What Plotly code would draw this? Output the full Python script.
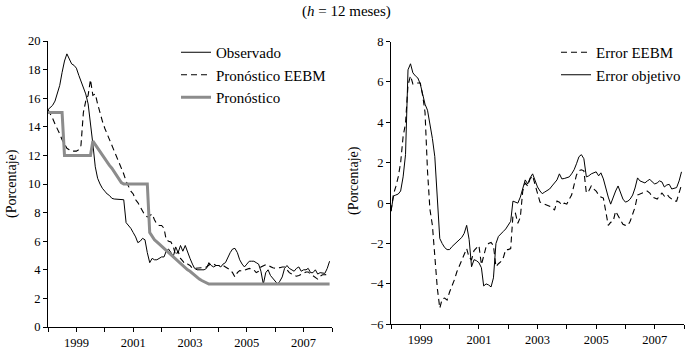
import plotly.graph_objects as go
import pandas as pd

# Monthly dates Jan 1998 - Dec 2007
months = pd.date_range("1998-01-01", periods=120, freq="MS")

# Left panel (inflation, %)
observado = [
    15.2, 15.4, 15.5, 15.8, 16.3, 16.9, 17.8, 18.6, 19.1, 18.8, 18.4, 18.3,
    18.1, 17.6, 17.2, 16.8, 16.3, 15.6, 14.4, 12.8, 11.2, 10.4, 10.0, 9.7,
    9.5, 9.3, 9.2, 9.0, 8.95, 8.95, 8.95, 8.95, 8.9, 7.3, 7.1, 6.9,
    6.6, 6.3, 5.9, 6.0, 6.2, 6.1, 5.2, 4.5, 4.8, 4.7, 4.7, 4.8,
    4.9, 4.9, 5.3, 5.45, 5.2, 4.95, 5.6, 5.2, 5.7, 5.3, 5.7, 5.2,
    4.8, 4.4, 4.1, 4.0, 4.0, 4.0, 4.0, 4.1, 4.5, 4.3, 4.2, 4.3,
    4.3, 4.2, 4.4, 4.5, 4.9, 5.2, 5.45, 5.5, 5.2, 4.7, 4.4, 4.2,
    4.4, 4.6, 4.6, 4.6, 4.5, 4.4, 3.9, 3.0, 3.8, 4.0, 3.6, 3.4,
    3.2, 3.0, 3.2, 3.5, 4.1, 4.3, 4.1, 4.0, 3.9, 4.1, 4.2, 3.9,
    4.0, 4.0, 4.1, 3.8, 3.8, 4.0, 3.7, 3.8, 3.8, 3.75, 4.1, 4.6,
]
pronostico_eebm = [
    15.2, 14.9, 14.6, 14.2, 13.9, 13.5, 13.1, 12.8, 12.5, 12.4, 12.3, 12.3,
    12.3, 12.4, 12.7, 15.0, 15.8, 16.2, 17.3, 16.2, 16.3, 15.6, 14.9, 14.4,
    13.9, 13.5, 13.1, 12.7, 12.3, 11.9, 11.5, 11.1, 10.7, 10.2, 9.8, 9.5,
    9.3, 8.9, 8.7, 8.4, 8.1, 7.8, 7.7, 7.8, 7.9, 7.5, 7.2, 7.1,
    7.1, 6.9, 6.1, 6.0, 5.95, 5.6, 5.0, 5.3, 4.8, 4.6, 4.4, 4.4,
    4.3, 4.1, 4.1, 4.1, 4.1, 4.1, 4.15, 4.2, 4.3, 4.45, 4.4, 4.3,
    4.3, 4.3, 4.3, 4.2, 4.1, 4.0, 3.8, 3.5, 3.8, 3.95, 3.9, 3.95,
    4.0, 4.1, 4.05, 4.0, 3.8, 3.9, 4.2, 4.3, 4.35, 4.3, 4.2, 4.15,
    4.1, 4.1, 4.15, 4.2, 4.2, 4.0, 3.8, 3.7, 3.6, 3.55, 3.6, 3.65,
    3.75, 3.85, 3.85, 3.7, 3.6, 3.45, 3.35, 3.55, 3.65, 3.65, 3.65, 3.7,
]
pronostico = [
    15.0, 15.0, 15.0, 15.0, 15.0, 15.0, 15.0, 12.0, 12.0, 12.0, 12.0, 12.0,
    12.0, 12.0, 12.0, 12.0, 12.0, 12.0, 12.0, 13.0, 12.75, 12.5, 12.2, 11.95,
    11.7, 11.5, 11.3, 11.1, 10.85, 10.6, 10.35, 10.1, 10.0, 10.0, 10.0, 10.0,
    10.0, 10.0, 10.0, 10.0, 10.0, 10.0, 10.0, 6.6, 6.3, 6.1, 5.95, 5.8,
    5.65, 5.5, 5.4, 5.25, 5.1, 4.95, 4.8, 4.65, 4.45, 4.3, 4.15, 4.0,
    3.9, 3.75, 3.6, 3.45, 3.35, 3.25, 3.15, 3.05, 3.0, 3.0, 3.0, 3.0,
    3.0, 3.0, 3.0, 3.0, 3.0, 3.0, 3.0, 3.0, 3.0, 3.0, 3.0, 3.0,
    3.0, 3.0, 3.0, 3.0, 3.0, 3.0, 3.0, 3.0, 3.0, 3.0, 3.0, 3.0,
    3.0, 3.0, 3.0, 3.0, 3.0, 3.0, 3.0, 3.0, 3.0, 3.0, 3.0, 3.0,
    3.0, 3.0, 3.0, 3.0, 3.0, 3.0, 3.0, 3.0, 3.0, 3.0, 3.0, 3.0,
]

# Right panel (forecast errors, %)
error_eebm = [
    -0.4, 0.45, 0.8, 1.3, 2.0, 3.3, 3.95, 5.85, 6.3, 5.9, 5.95, 5.95,
    5.95, 5.3, 4.5, 1.6, -0.3, -1.1, -2.9, -4.2, -5.2, -4.75, -4.7, -4.8,
    -4.4, -4.1, -3.8, -3.4, -3.1, -2.8, -2.5, -2.25, -2.7, -2.8, -2.35, -2.2,
    -2.1, -3.05, -2.6, -2.15, -2.0, -1.95, -2.1, -3.15, -3.0, -2.9, -2.7, -2.3,
    -2.3, -2.25, -0.6, -0.5, -1.0, -0.7, 0.6, 1.0, 0.85, 1.2, 1.35, 0.9,
    0.5, 0.05, 0.0, -0.05, -0.1, -0.15, -0.2, -0.35, 0.1, 0.05, -0.1, 0.0,
    -0.05, 0.2, 0.4, 0.9, 1.4, 1.6, 1.65, 1.6, 0.5, 0.6, 0.85, 0.7,
    0.6, 0.4, 0.3, 0.25, -0.4, -1.1, -0.95, -0.9, -0.4, -0.6, -0.85, -1.05,
    -1.1, -1.1, -0.9, -0.5, -0.2, 0.4, 0.45, 0.5, 0.55, 0.6, 0.5, 0.3,
    0.25, 0.2, 0.35, 0.5, 0.35, 0.45, 0.3, 0.2, 0.1, 0.1, 0.5, 0.9,
]
error_objetivo = [
    -0.4, 0.35, 0.4, 0.45, 0.6, 1.3, 2.4, 6.6, 6.9, 6.45, 6.3, 6.2,
    5.9, 5.4, 4.9, 4.6, 4.0, 3.2, 2.3, 0.0, -1.75, -2.0, -2.2, -2.3,
    -2.3, -2.15, -2.05, -1.95, -1.85, -1.7, -1.5, -1.1, -1.8, -3.15, -2.8, -2.85,
    -2.95, -3.2, -4.1, -4.0, -4.05, -4.15, -3.7, -2.0, -1.65, -1.5, -1.4, -1.28,
    -1.1, -0.9, 0.1, 0.05, 0.0, 0.3, 0.7, 1.15, 0.95, 1.25, 1.45, 1.1,
    0.8, 0.6, 0.47, 0.55, 0.62, 0.7, 0.85, 1.0, 1.15, 1.45, 1.2, 1.22,
    1.25, 1.3, 1.45, 1.65, 1.95, 2.3, 2.4, 2.2, 1.3, 1.35, 1.45, 1.5,
    1.55, 1.35, 1.5, 1.2, 0.7, 0.3, -0.05, 0.3, 0.6, 0.85, 0.5, 0.2,
    0.05, 0.1, 0.2, 0.4, 0.75, 1.25, 1.1, 1.05, 1.0, 1.1, 1.18, 1.05,
    0.95, 1.0, 1.1, 1.05, 0.8, 0.9, 0.93, 0.7, 0.75, 0.77, 1.1, 1.55,
]

year_ticks = pd.date_range("1998-01-01", periods=11, freq="12MS")
year_labels = [str(d.year) if d.year % 2 == 1 else "" for d in year_ticks]
x_range = ["1998-01-01", "2008-01-01"]

FONT = "Liberation Serif"
W, H = 690, 349
ML, MR, MT, MB = 0, 0, 41, 22
PH = H - MT - MB

dash = "6px,4px"

fig = go.Figure()
fig.add_trace(go.Scatter(x=months, y=observado, name="Observado", mode="lines",
                         line=dict(color="black", width=1), xaxis="x", yaxis="y",
                         legend="legend"))
fig.add_trace(go.Scatter(x=months, y=pronostico_eebm, name="Pronóstico EEBM", mode="lines",
                         line=dict(color="black", width=1.1, dash=dash), xaxis="x", yaxis="y",
                         legend="legend"))
fig.add_trace(go.Scatter(x=months, y=pronostico, name="Pronóstico", mode="lines",
                         line=dict(color="#8c8c8c", width=3), xaxis="x", yaxis="y",
                         legend="legend"))
fig.add_trace(go.Scatter(x=months, y=error_eebm, name="Error EEBM", mode="lines",
                         line=dict(color="black", width=1.1, dash=dash), xaxis="x2", yaxis="y2",
                         legend="legend2"))
fig.add_trace(go.Scatter(x=months, y=error_objetivo, name="Error objetivo", mode="lines",
                         line=dict(color="black", width=1), xaxis="x2", yaxis="y2",
                         legend="legend2"))

axis_common = dict(showgrid=False, zeroline=False, showline=True, linecolor="black",
                   linewidth=1, ticks="outside", ticklen=4, tickcolor="black",
                   tickfont=dict(family=FONT, size=12.5, color="black"))

right_d0 = 2.7 / PH
fig.update_layout(
    width=W, height=H,
    margin=dict(l=ML, r=MR, t=MT, b=MB),
    paper_bgcolor="white", plot_bgcolor="white",
    font=dict(family=FONT, color="black"),
    xaxis=dict(domain=[48 / W, 332 / W], anchor="y", range=x_range, type="date",
               tickmode="array", tickvals=year_ticks, ticktext=year_labels, **axis_common),
    yaxis=dict(domain=[0, 1], anchor="x", range=[0, 20], dtick=2, tick0=0, **axis_common),
    xaxis2=dict(domain=[391 / W, 684 / W], anchor="y2", range=x_range, type="date",
                tickmode="array", tickvals=year_ticks, ticktext=year_labels, **axis_common),
    yaxis2=dict(domain=[right_d0, 0.998], anchor="x2", range=[-6, 8], dtick=2, tick0=0,
                **axis_common),
    xaxis3=dict(overlaying="x2", anchor="free",
                position=right_d0 + (6 / 14) * (0.998 - right_d0),
                range=x_range, type="date", tickmode="array", tickvals=year_ticks,
                showticklabels=False, showgrid=False, zeroline=False, showline=True,
                linecolor="black", linewidth=1, ticks="outside", ticklen=4, tickcolor="black"),
    legend=dict(x=176 / W, y=(327 - 36) / PH, xanchor="left", yanchor="top",
                bgcolor="rgba(0,0,0,0)", font=dict(family=FONT, size=15, color="black"),
                itemwidth=30, tracegroupgap=0),
    legend2=dict(x=556 / W, y=(327 - 36) / PH, xanchor="left", yanchor="top",
                 bgcolor="rgba(0,0,0,0)", font=dict(family=FONT, size=15, color="black"),
                 itemwidth=30, tracegroupgap=0),
    showlegend=True,
    annotations=[
        dict(text="(<i>h</i> = 12 meses)", x=347 / W, y=(327 - 12) / PH, xref="paper",
             yref="paper", showarrow=False, xanchor="center", yanchor="middle",
             font=dict(family=FONT, size=15, color="black")),
        dict(text="(Porcentaje)", x=12 / W, y=(327 - 184) / PH, xref="paper", yref="paper",
             showarrow=False, textangle=-90, xanchor="center", yanchor="middle",
             font=dict(family=FONT, size=14, color="black")),
        dict(text="(Porcentaje)", x=354 / W, y=(327 - 181) / PH, xref="paper", yref="paper",
             showarrow=False, textangle=-90, xanchor="center", yanchor="middle",
             font=dict(family=FONT, size=14, color="black")),
    ],
)

fig.write_html("out.html", config={"displayModeBar": False},
               post_script="document.body.style.margin='0px';")
